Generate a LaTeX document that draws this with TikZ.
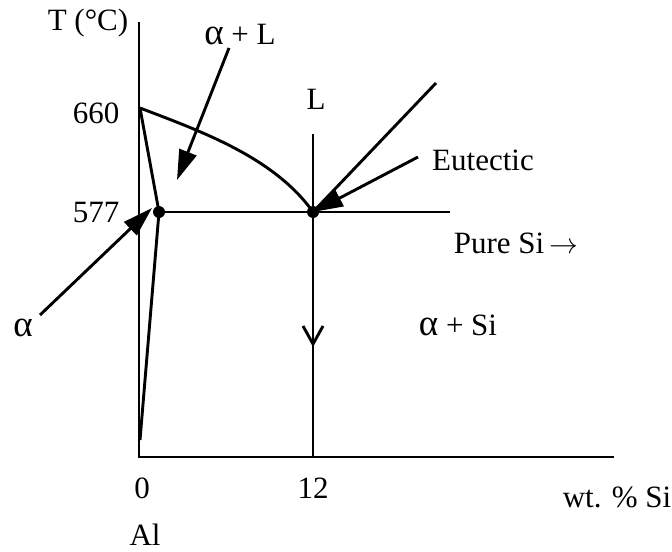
\documentclass[tikz,border=0pt]{standalone}
\usepackage{fontspec}
\setmainfont{Liberation Serif}
\usetikzlibrary{arrows.meta}

\newcommand{\alp}{{\fontsize{18.5}{18}\selectfont α}}

\begin{document}
\begin{tikzpicture}[x=0.5pt,y=-0.5pt,line width=1.45pt,
    every node/.style={font=\fontsize{15.5}{18}\selectfont,inner sep=1pt},
    pointer/.style={-{Triangle[length=15pt,width=9pt]}}]
            \useasboundingbox (0,0) rectangle (672,551);

            \coordinate (O) at (139,457);
            \coordinate (Ttop) at (139,22);
            \coordinate (Xend) at (614,457);
            \coordinate (Melt) at (140,108);
            \coordinate (A) at (159,212);
            \coordinate (E) at (313,212);
            \coordinate (Solv) at (140,440);
            \coordinate (Lend) at (450,212);
            \coordinate (Ltop) at (313,134);
            \coordinate (Lmid) at (313,347);
            \coordinate (Lbot) at (313,457);
            \coordinate (D) at (436,83);
            \coordinate (aLtail) at (229,48);
            \coordinate (aLtip) at (177,180);
            \coordinate (Etail) at (418,157);
            \coordinate (atail) at (40,315);
            \coordinate (atip) at (152,208);

            % axes
            \draw (Ttop) -- (O) -- (Xend);

            % phase boundaries
            \draw (Melt) .. controls (200,131) and (274,157) .. (E);
            \draw (Melt) -- (A) -- (Solv);
            \draw (A) -- (Lend);
            \draw (E) -- (D);
            \draw (Ltop) -- (Lbot);
            \draw[-{Straight Barb[length=9pt,width=10pt]}] (E) -- (Lmid);

            \fill (A) circle (3pt);
            \fill (E) circle (3pt);

            % pointers
            \draw[pointer] (aLtail) -- (aLtip);
            \draw[pointer] (Etail) -- (E);
            \draw[pointer] (atail) -- (atip);

            \node (tlab) at (88,23) {T (°C)};
            \node (t660) at (96,113) {660};
            \node (t577) at (96,212) {577};
            \node (aL) at (240,35) {\alp\ + L};
            \node (Llab) at (316,99) {L};
            \node (eut) at (483,160) {Eutectic};
            \node (pure) at (516,243) {Pure Si\,$\rightarrow$};
            \node (alab) at (23,328) {\alp};
            \node (aSi) at (458,325) {\alp\ + Si};
            \node (x0) at (142,488) {0};
            \node (x12) at (313,488) {12};
            \node (wt) at (617,497) {wt. \% Si};
            \node (al) at (145,535) {Al};
        \end{tikzpicture}
\end{document}
